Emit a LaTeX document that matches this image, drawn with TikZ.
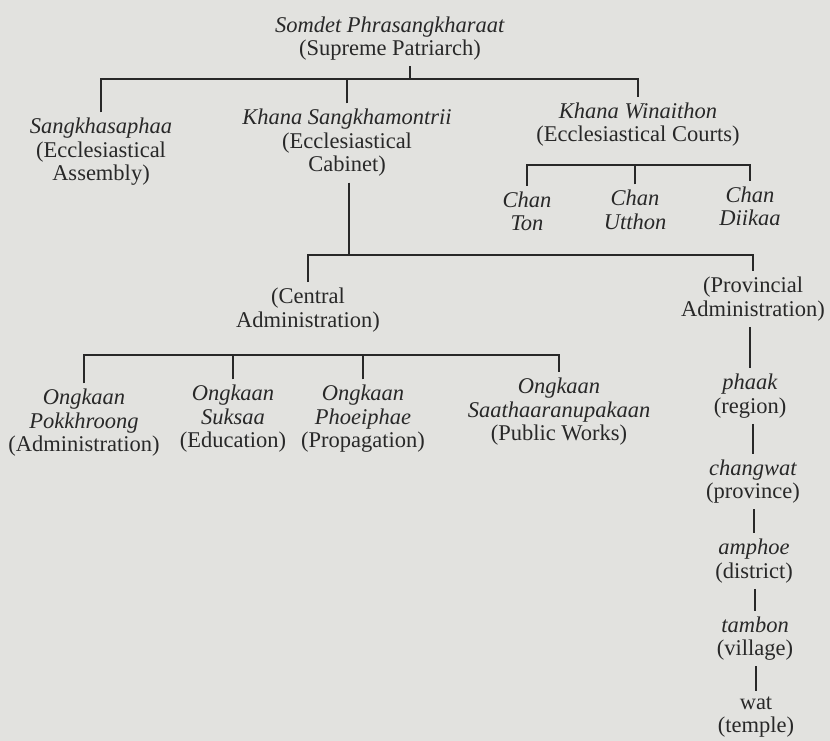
\documentclass[tikz,border=0pt]{standalone}
\usepackage{fontspec}
\setmainfont{Liberation Serif}
\definecolor{bgcol}{RGB}{226,226,223}
\definecolor{ink}{RGB}{40,40,40}
\begin{document}
\begin{tikzpicture}[x=1pt,y=-1pt,
  lbl/.style={align=center,inner sep=0pt,outer sep=6pt,text=ink,font=\fontsize{22.5}{23.5}\selectfont},
  conn/.style={line width=1.4pt,draw=ink}]
\useasboundingbox[fill=bgcol] (0,0) rectangle (830,741);
% nodes
\node[lbl] (top) at (390,38.5) {\textit{Somdet Phrasangkharaat}\\(Supreme Patriarch)};
\node[lbl] (sang) at (101,152) {\textit{Sangkhasaphaa}\\(Ecclesiastical\\Assembly)};
\node[lbl] (cab) at (347,143) {\textit{Khana Sangkhamontrii}\\(Ecclesiastical\\Cabinet)};
\node[lbl] (win) at (638,124.5) {\textit{Khana Winaithon}\\(Ecclesiastical Courts)};
\node[lbl] (ton) at (527,211.5) {\textit{Chan}\\\textit{Ton}};
\node[lbl] (utt) at (635,210) {\textit{Chan}\\\textit{Utthon}};
\node[lbl] (dii) at (750,206.5) {\textit{Chan}\\\textit{Diikaa}};
\node[lbl] (cen) at (308,310) {(Central\\Administration)};
\node[lbl] (prov) at (753,299) {(Provincial\\Administration)};
\node[lbl] (pok) at (84,423) {\textit{Ongkaan}\\\textit{Pokkhroong}\\(Administration)};
\node[lbl] (suk) at (233,419) {\textit{Ongkaan}\\\textit{Suksaa}\\(Education)};
\node[lbl] (pho) at (363,419) {\textit{Ongkaan}\\\textit{Phoeiphae}\\(Propagation)};
\node[lbl] (saa) at (559,412) {\textit{Ongkaan}\\\textit{Saathaaranupakaan}\\(Public Works)};
\node[lbl] (phaak) at (750,396) {\textit{phaak}\\(region)};
\node[lbl] (chw) at (753,481.5) {\textit{changwat}\\(province)};
\node[lbl] (amp) at (754,561) {\textit{amphoe}\\(district)};
\node[lbl] (tam) at (755,638.5) {\textit{tambon}\\(village)};
\node[lbl] (wat) at (756,717) {wat\\(temple)};
% bar coordinates
\coordinate (b1) at (410,79);
\coordinate (b2) at (634,165);
\coordinate (b3) at (349,255);
\coordinate (b4) at (300,355);
% connectors
\draw[conn] (top.south -| b1) -- (b1);
\draw[conn] (sang.north) |- (b1) -| (win.north);
\draw[conn] (cab.north) -- (cab.north |- b1);
\draw[conn] (ton.north) |- (b2) -| (dii.north);
\draw[conn] (utt.north) -- (utt.north |- b2);
\draw[conn] (cab.south -| b3) -- (b3);
\draw[conn] (cen.north) |- (b3) -| (prov.north);
\draw[conn] (pok.north) |- (b4) -| (saa.north);
\draw[conn] (suk.north) -- (suk.north |- b4);
\draw[conn] (pho.north) -- (pho.north |- b4);
\draw[conn] (prov.south -| phaak) -- (phaak.north);
\draw[conn] (phaak.south -| chw) -- (chw.north);
\draw[conn] (chw.south -| amp) -- (amp.north);
\draw[conn] (amp.south -| tam) -- (tam.north);
\draw[conn] (tam.south -| wat) -- (wat.north);
\end{tikzpicture}
\end{document}
